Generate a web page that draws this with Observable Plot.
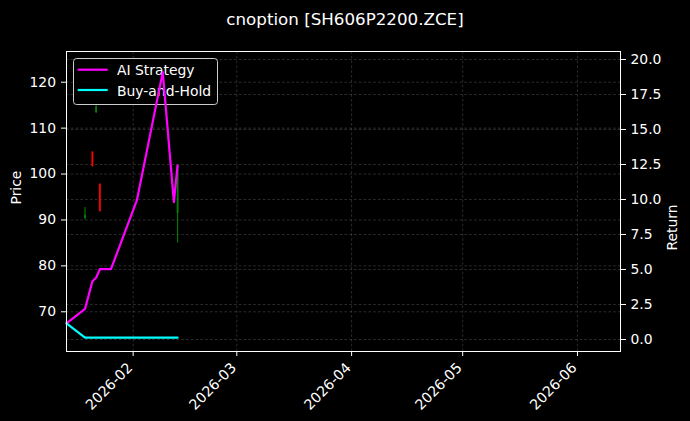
<!DOCTYPE html>
<html>
<head>
<meta charset="utf-8">
<script src="https://cdn.jsdelivr.net/npm/d3@7"></script>
<script src="https://cdn.jsdelivr.net/npm/@observablehq/plot@0.6"></script>
<style>
  html, body { margin: 0; padding: 0; background: #000; }
  #wrap { position: relative; width: 690px; height: 421px; background: #000; overflow: hidden;
          font-family: "DejaVu Sans", sans-serif; color: #fff; }
  #title { height: 36px; box-sizing: border-box; padding-top: 9px; line-height: 20px;
           text-align: center; font-size: 16.7px; white-space: nowrap; }
  svg { display: block; }
</style>
</head>
<body>
<div id="wrap"><div id="title"></div></div>
<script>
// ---------- data ----------
const chartTitle = "cnoption [SH606P2200.ZCE]";
const seriesNames = ["AI Strategy", "Buy-and-Hold"];
const seriesColors = ["#ff00ff", "#00ffff"];

const retDates = ["2026-01-14","2026-01-19","2026-01-21","2026-01-22","2026-01-23",
                  "2026-01-26","2026-02-02","2026-02-09","2026-02-12","2026-02-13"];
const aiReturn = [1.16, 2.19, 4.16, 4.41, 5.02, 5.02, 9.93, 19.1, 9.81, 12.43];
const bhReturn = [1.16, 0.14, 0.14, 0.14, 0.14, 0.14, 0.14, 0.14, 0.14, 0.14];

const candleDates = ["2026-01-19","2026-01-21","2026-01-22","2026-01-23","2026-02-13"];
const candleOpen  = [90.3, 104.8, 113.4, 97.8, 91.4];
const candleClose = [91.0, 101.6, 114.6, 91.8, 101.8];
const candleHigh  = [92.7, 104.8, 115.4, 97.8, 101.8];
const candleLow   = [90.0, 101.6, 113.2, 91.8, 85.0];

const priceTicks  = [70, 80, 90, 100, 110, 120];
const returnTicks = [0, 2.5, 5, 7.5, 10, 12.5, 15, 17.5, 20];
const monthTicks  = ["2026-02-01","2026-03-01","2026-04-01","2026-05-01","2026-06-01"];

const xDomain = ["2026-01-14T00:00:00Z", "2026-06-12T15:00:00Z"];
const priceDomain = [61.35, 126.69];
const returnDomain = [-0.857, 20.571];

// ---------- tables ----------
const parse = s => new Date(s.length === 10 ? s + "T00:00:00Z" : s);
const r2p = d3.scaleLinear().domain(returnDomain).range(priceDomain);

const retRows = retDates.map((d, i) => ({date: parse(d), ai: aiReturn[i], bh: bhReturn[i]}));
const candles = candleDates.map((d, i) => ({
  date: parse(d), open: candleOpen[i], close: candleClose[i], high: candleHigh[i], low: candleLow[i]
}));
const candleColor = d => d.close >= d.open ? "#008000" : "#ff0000";

document.getElementById("title").textContent = chartTitle;

const gridStyle = {stroke: "#b0b0b0", strokeOpacity: 0.35, strokeWidth: 0.7, strokeDasharray: "2.6,2.2"};

function legendMark() {
  const g = d3.create("svg:g")
    .attr("font-family", "DejaVu Sans, sans-serif")
    .attr("font-size", 13.9)
    .attr("text-anchor", "start");
  g.append("rect")
    .attr("x", 73.5).attr("y", 22.5).attr("width", 144).attr("height", 46).attr("rx", 3)
    .attr("fill", "#000").attr("fill-opacity", 0.8)
    .attr("stroke", "#cccccc").attr("stroke-width", 1);
  seriesNames.forEach((name, i) => {
    const y = 33.7 + i * 20.3;
    g.append("line").attr("x1", 77.7).attr("x2", 107.7).attr("y1", y).attr("y2", y)
      .attr("stroke", seriesColors[i]).attr("stroke-width", 2.2);
    g.append("text").attr("x", 117).attr("y", y + 5.6).attr("fill", "#fff")
      .attr("text-anchor", "start").text(name);
  });
  return g.node();
}

const chart = Plot.plot({
  width: 690,
  height: 385,
  marginLeft: 66,
  marginRight: 70,
  marginTop: 15,
  marginBottom: 70,
  style: {background: "#000", color: "#fff", fontFamily: "DejaVu Sans, sans-serif", fontSize: "13.9px", overflow: "visible"},
  x: {type: "utc", domain: xDomain.map(parse)},
  y: {domain: priceDomain},
  marks: [
    Plot.gridX(monthTicks.map(parse), gridStyle),
    Plot.gridY(priceTicks, gridStyle),
    Plot.gridY(returnTicks.map(r => r2p(r)), gridStyle),
    Plot.ruleX(candles, {x: "date", y1: "low", y2: "high", stroke: candleColor, strokeWidth: 1.1}),
    Plot.ruleX(candles, {x: "date", y1: "open", y2: "close", stroke: candleColor, strokeWidth: 1.8}),
    legendMark,
    Plot.line(retRows, {x: "date", y: d => r2p(d.ai), stroke: seriesColors[0], strokeWidth: 2.2}),
    Plot.line(retRows, {x: "date", y: d => r2p(d.bh), stroke: seriesColors[1], strokeWidth: 2.2}),
    Plot.frame({stroke: "#fff", strokeWidth: 1}),
    Plot.axisY(priceTicks, {anchor: "left", tickSize: 5, tickPadding: 5.5, label: null, tickFormat: d => String(d)}),
    Plot.axisY(returnTicks.map(r => r2p(r)), {anchor: "right", tickSize: 5, tickPadding: 5, label: null,
      tickFormat: v => r2p.invert(v).toFixed(1)}),
    Plot.axisX(monthTicks.map(parse), {anchor: "bottom", tickSize: 5, label: null, tickFormat: () => ""}),
    Plot.axisX(monthTicks.map(parse), {anchor: "bottom", tickSize: 0, tickPadding: 10, tickRotate: -45, label: null,
      fontSize: 14.2, dx: -3, dy: 4, tickFormat: d3.utcFormat("%Y-%m")}),
    Plot.text(["Price"], {frameAnchor: "left", dx: -49.5, dy: 3, rotate: -90, fill: "#fff", fontSize: 13.9, text: d => d}),
    Plot.text(["Return"], {frameAnchor: "right", dx: 52, dy: 3, rotate: -90, fill: "#fff", fontSize: 13.9, text: d => d})
  ]
});
document.getElementById("wrap").appendChild(chart);
</script>
</body>
</html>
